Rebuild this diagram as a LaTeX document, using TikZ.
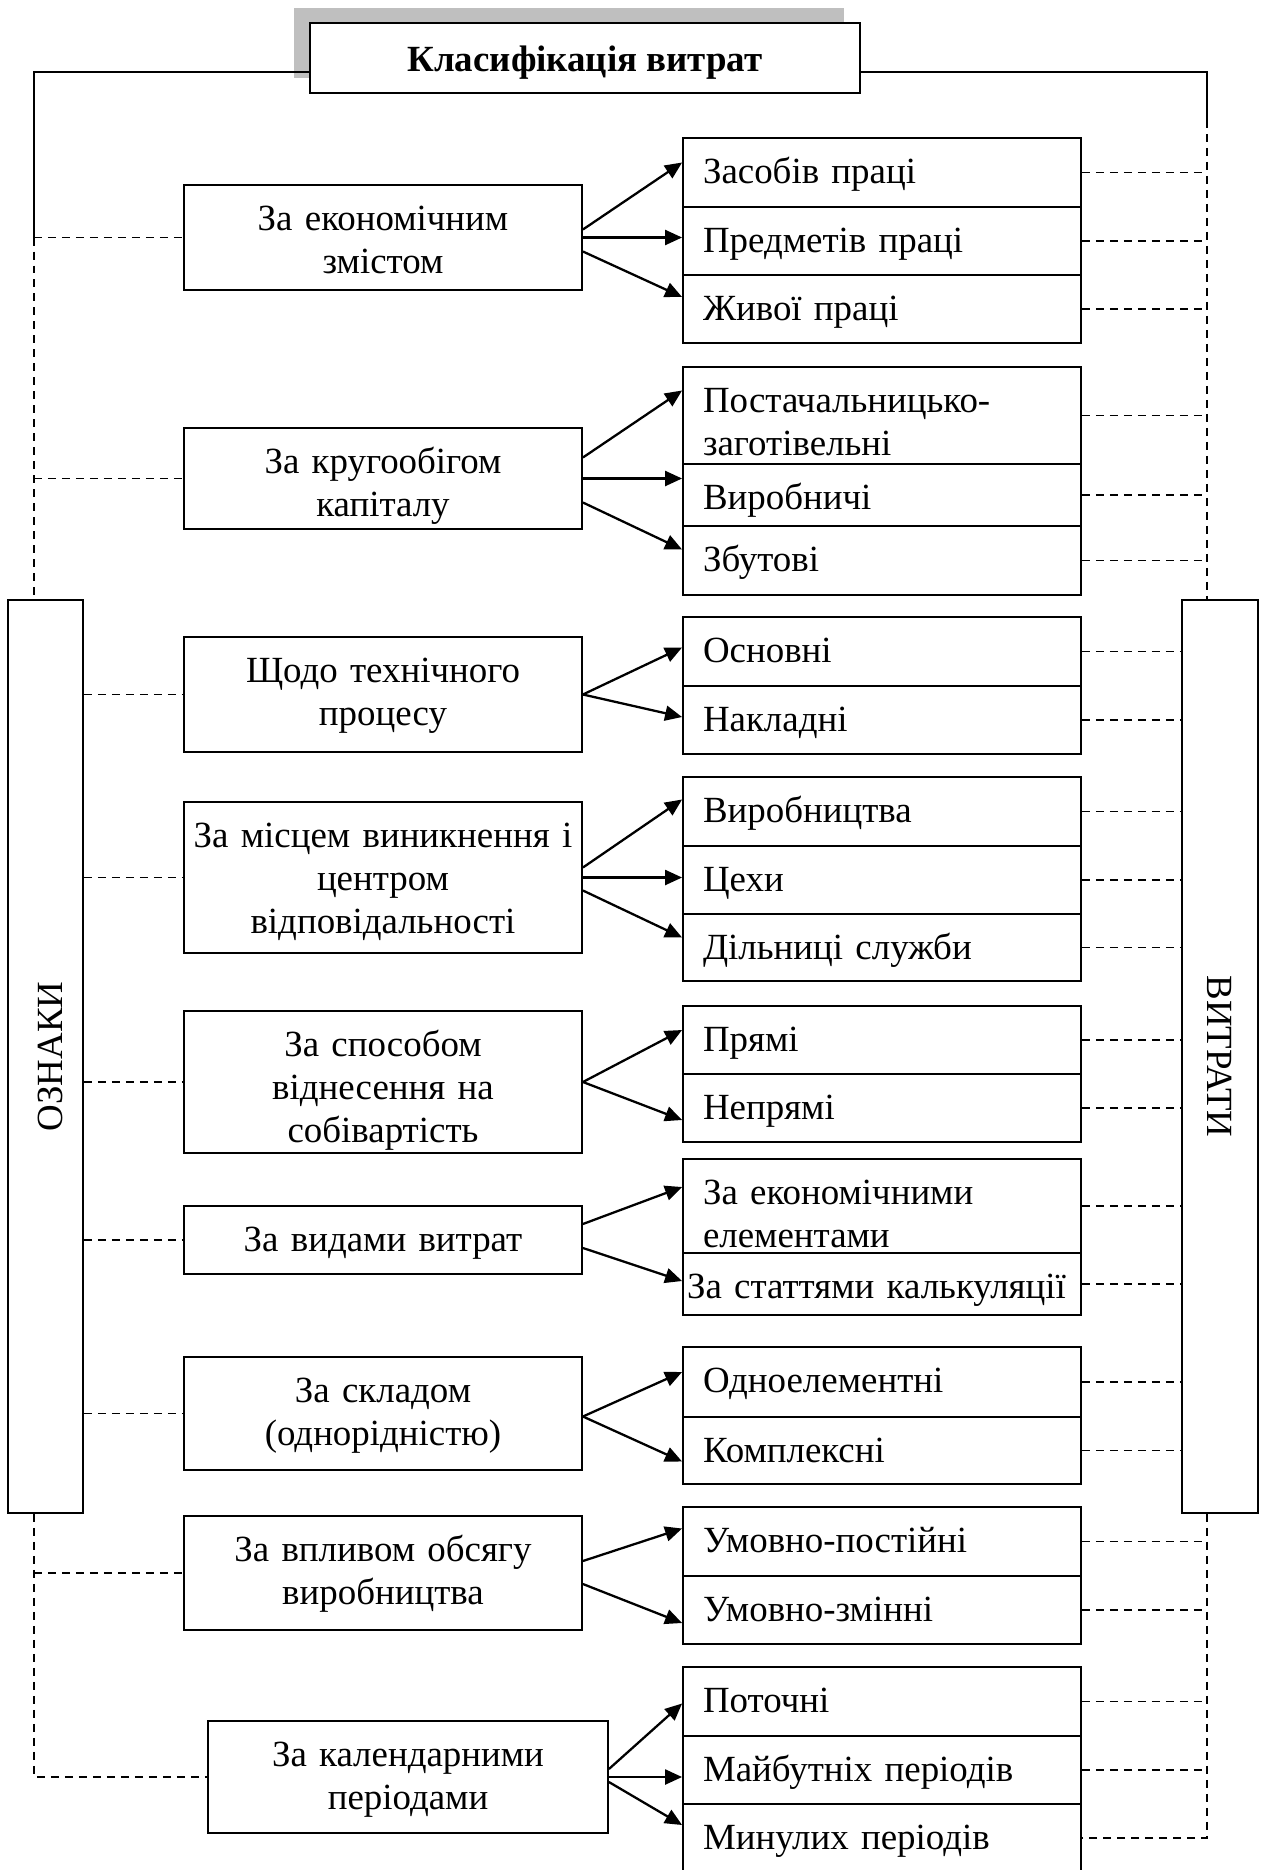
\documentclass[tikz,border=0pt]{standalone}
\usepackage{fontspec}
\setmainfont{Liberation Serif}
\usepackage{graphicx}
\usetikzlibrary{positioning, calc, arrows.meta, shadows}

\begin{document}
\begin{tikzpicture}[x=0.02cm, y=-0.02cm,
  font=\fontsize{21}{24.5}\selectfont,
  >={Triangle[length=0.34cm, width=0.3cm]},
  crit/.style={draw, line width=1.1pt, minimum width=7.96cm, text width=7.8cm,
    align=center, inner xsep=0pt, inner ysep=0pt, text height=0.9cm},
  kind/.style={draw, line width=1.1pt, text width=7.16cm, inner xsep=0.4cm,
    inner ysep=0pt, align=left, text height=0.9cm},
  side/.style={draw, line width=1.1pt, minimum height=18.26cm, inner sep=0pt},
  conn/.style={line width=1.1pt},
  dashln/.style={dash pattern=on 0.16cm off 0.12cm, line width=1pt},
  arr/.style={->, line width=1.3pt}]

% canvas in pixels of the 1264x1870 sheet, y pointing down
\useasboundingbox (0,0) rectangle (1264,1870);

%% ── title and side bars ──────────────────────────────────────────
\node[draw, fill=white, line width=1.1pt, minimum width=11cm, inner ysep=0pt,
  text height=0.96cm, text depth=0.44cm,
  font=\fontsize{21}{24.5}\selectfont\bfseries,
  drop shadow={shadow xshift=-0.32cm, shadow yshift=0.3cm, fill=black!25, opacity=1}]
  (title) at (585,58) {Класифікація витрат};
\node[side, minimum width=1.5cm]  (ozn) at (45.5,1056.5) {\hspace{0.2cm}\rotatebox{90}{ОЗНАКИ}};
\node[side, minimum width=1.52cm] (vyt) at (1220,1056.5) {\rotatebox{-90}{ВИТРАТИ}\hspace{0.24cm}};

\coordinate (tl)  at (34,72);
\coordinate (tr)  at (1207,72);
\coordinate (trs) at (1207,120);

%% ── criteria (left column) ───────────────────────────────────────
\node[crit, text depth=1.2cm]  (econ)    at (383,237.5) {За економічним\\змістом};
\node[crit, text depth=1.12cm] (capital) at (383,478.5) {За кругообігом\\капіталу};
\node[crit, text depth=1.4cm]  (tech)    at (383,694.5) {Щодо технічного\\процесу};
\node[crit, text depth=2.12cm] (place)   at (383,877.5) {За місцем виникнення і\\центром\\відповідальності};
\node[crit, text depth=1.94cm] (method)  at (383,1082)  {За способом\\віднесення на\\собівартість};
\node[crit, text depth=0.46cm] (kinds)   at (383,1240)  {За видами витрат};
\node[crit, text depth=1.36cm] (compos)  at (383,1413.5) {За складом\\(однорідністю)};
\node[crit, text depth=1.38cm] (volume)  at (383,1573)  {За впливом обсягу\\виробництва};
\node[crit, text depth=1.34cm, minimum width=8cm] (calend) at (408,1777) {За календарними\\періодами};

%% ── kinds of costs (right column) ────────────────────────────────
\node[kind, text depth=0.48cm] (e1) at (882,172.5) {Засобів праці};
\node[kind, text depth=0.46cm] (e2) at (882,241)   {Предметів праці};
\node[kind, text depth=0.46cm] (e3) at (882,309)   {Живої праці};

\node[kind, text depth=1.04cm] (k1) at (882,415.5) {Постачальницько-\\заготівельні};
\node[kind, text depth=0.34cm] (k2) at (882,495)   {Виробничі};
\node[kind, text depth=0.48cm] (k3) at (882,560.5) {Збутові};

\node[kind, text depth=0.48cm] (t1) at (882,651.5) {Основні};
\node[kind, text depth=0.46cm] (t2) at (882,720)   {Накладні};

\node[kind, text depth=0.48cm] (p1) at (882,811.5) {Виробництва};
\node[kind, text depth=0.46cm] (p2) at (882,880)   {Цехи};
\node[kind, text depth=0.44cm] (p3) at (882,947.5) {Дільниці служби};

\node[kind, text depth=0.46cm] (m1) at (882,1040) {Прямі};
\node[kind, text depth=0.46cm] (m2) at (882,1108) {Непрямі};

\node[kind, text depth=0.98cm] (v1) at (882,1206) {За економічними\\елементами};
\node[kind, text depth=0.34cm, text width=7.8cm, inner xsep=0.08cm] (v2) at (882,1284) {За статтями калькуляції};

\node[kind, text depth=0.5cm]  (c1) at (882,1382)   {Одноелементні};
\node[kind, text depth=0.44cm] (c2) at (882,1450.5) {Комплексні};

\node[kind, text depth=0.48cm] (u1) at (882,1541.5) {Умовно-постійні};
\node[kind, text depth=0.46cm] (u2) at (882,1610)   {Умовно-змінні};

\node[kind, text depth=0.48cm] (r1) at (882,1701.5) {Поточні};
\node[kind, text depth=0.46cm] (r2) at (882,1770)   {Майбутніх періодів};
\node[kind, text depth=0.46cm] (r3) at (882,1838)   {Минулих періодів};

%% ── frame lines ──────────────────────────────────────────────────
\draw[conn] (title.west |- tl) -- (tl) -- (tl |- econ.west);
\draw[dashln] (tl |- econ.west) -- (tl |- ozn.north);
\draw[dashln] (tl |- ozn.south) -- (tl |- calend.west) -- (calend.west);
\draw[conn] (title.east |- tr) -- (tr) -- (trs);
\draw[dashln] (trs) -- (tr |- vyt.north);
\draw[dashln] (tr |- vyt.south) -- (tr |- r3.east) -- (r3.east);

%% ── dashed links ─────────────────────────────────────────────────
\foreach \n in {econ, capital, volume} \draw[dashln] (tl |- \n.west) -- (\n.west);
\foreach \n in {tech, place, method, kinds, compos} \draw[dashln] (ozn.east |- \n.west) -- (\n.west);
\foreach \n in {e1, e2, e3, k1, k2, k3, u1, u2, r1, r2} \draw[dashln] (\n.east) -- (tr |- \n.east);
\foreach \n in {t1, t2, p1, p2, p3, m1, m2, v1, v2, c1, c2} \draw[dashln] (\n.east) -- (vyt.west |- \n.east);

%% ── arrows ───────────────────────────────────────────────────────
\draw[arr] ($(econ.east)+(0,-8)$) -- ($(e1.west)+(0,-10)$);
\draw[arr] (econ.east) -- (econ.east -| e2.west);
\draw[arr] ($(econ.east)+(0,14)$) -- ($(e3.west)+(0,-12)$);

\draw[arr] ($(capital.east)+(0,-21)$) -- ($(k1.west)+(0,-25)$);
\draw[arr] (capital.east) -- (capital.east -| k2.west);
\draw[arr] ($(capital.east)+(0,24)$) -- ($(k3.west)+(0,-11)$);

\draw[arr] (tech.east) -- ($(t1.west)+(0,-4)$);
\draw[arr] (tech.east) -- ($(t2.west)+(0,-3)$);

\draw[arr] ($(place.east)+(0,-10)$) -- ($(p1.west)+(0,-12)$);
\draw[arr] (place.east) -- (place.east -| p2.west);
\draw[arr] ($(place.east)+(0,13)$) -- ($(p3.west)+(0,-10)$);

\draw[arr] (method.east) -- ($(m1.west)+(0,-10)$);
\draw[arr] (method.east) -- ($(m2.west)+(0,12)$);

\draw[arr] ($(kinds.east)+(0,-16)$) -- ($(v1.west)+(0,-19)$);
\draw[arr] ($(kinds.east)+(0,8)$) -- ($(v2.west)+(0,-3)$);

\draw[arr] ($(compos.east)+(0,3)$) -- ($(c1.west)+(0,-10)$);
\draw[arr] ($(compos.east)+(0,3)$) -- ($(c2.west)+(0,11)$);

\draw[arr] ($(volume.east)+(0,-12)$) -- ($(u1.west)+(0,-13)$);
\draw[arr] ($(volume.east)+(0,11)$) -- ($(u2.west)+(0,13)$);

\draw[arr] ($(calend.east)+(0,-8)$) -- ($(r1.west)+(0,2)$);
\draw[arr] (calend.east) -- (calend.east -| r2.west);
\draw[arr] ($(calend.east)+(0,5)$) -- ($(r3.west)+(0,-13)$);

\end{tikzpicture}
\end{document}
